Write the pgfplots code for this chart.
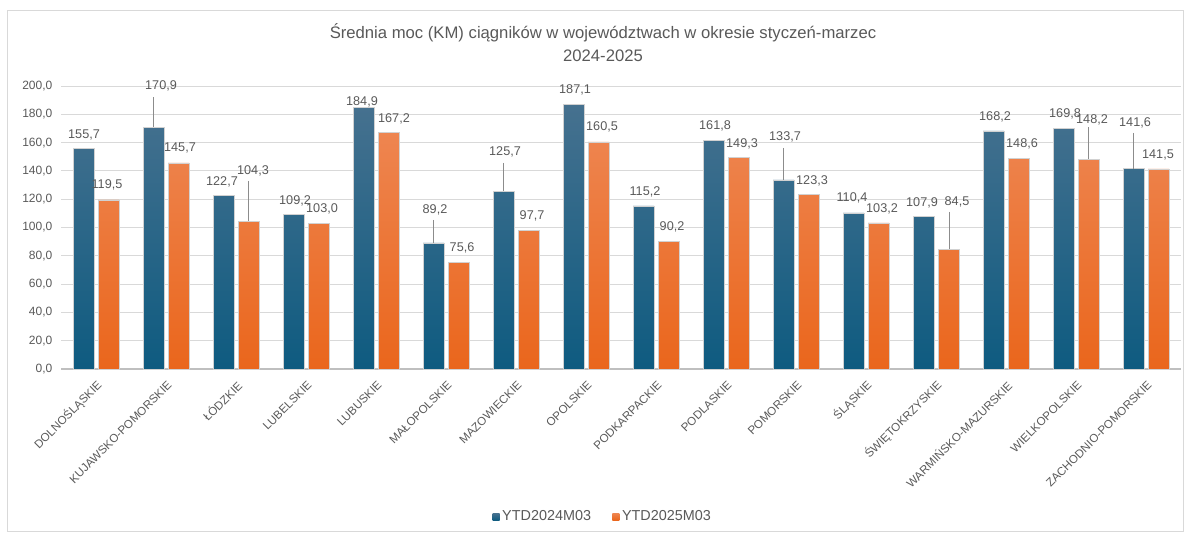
\documentclass[border=0pt]{standalone}
\usepackage{pgfplots}
\pgfplotsset{compat=1.18}
\usepackage{pgfplotstable}
\usepackage{fontspec}
\setmainfont{Liberation Sans}
\definecolor{txt}{HTML}{595959}
\definecolor{gridc}{HTML}{D9D9D9}
\definecolor{axc}{HTML}{BFBFBF}
\definecolor{leadc}{HTML}{8C8C8C}
\definecolor{bluetop}{HTML}{46718F}
\definecolor{bluebot}{HTML}{0E5B80}
\definecolor{orgtop}{HTML}{EE8550}
\definecolor{orgbot}{HTML}{EA661C}

\pgfplotstableread{
x a b
0 155.7 119.5
1 170.9 145.7
2 122.7 104.3
3 109.2 103.0
4 184.9 167.2
5 89.2 75.6
6 125.7 97.7
7 187.1 160.5
8 115.2 90.2
9 161.8 149.3
10 133.7 123.3
11 110.4 103.2
12 107.9 84.5
13 168.2 148.6
14 169.8 148.2
15 141.6 141.5
}\data

\pgfplotstableread{
lx ly lab
-0.171 165.4 155,7
0.929 200.0 170,9
1.800 132.2 122,7
2.843 118.7 109,2
3.800 188.7 184,9
4.843 112.4 89,2
5.843 153.4 125,7
6.843 197.2 187,1
7.843 125.1 115,2
8.843 171.7 161,8
9.843 164.0 133,7
10.800 120.8 110,4
11.800 117.3 107,9
12.843 178.1 168,2
13.843 180.2 169,8
14.843 173.9 141,6
}\labA

\pgfplotstableread{
lx ly lab
0.157 130.0 119,5
1.200 156.2 145,7
2.243 139.9 104,3
3.229 113.1 103,0
4.257 176.7 167,2
5.229 85.5 75,6
6.229 108.1 97,7
7.229 171.0 160,5
8.229 100.4 90,2
9.229 159.0 149,3
10.229 132.9 123,3
11.229 113.1 103,2
12.300 118.0 84,5
13.229 159.0 148,6
14.229 176.0 148,2
15.171 151.2 141,5
}\labB

\begin{document}
\begin{tikzpicture}
\useasboundingbox (0,0) rectangle (890.25pt,401.25pt);
\draw[gridc, line width=0.6pt] (5.25pt,3pt) rectangle (887.25pt,393.75pt);
\node[text=txt, align=center, font=\fontsize{12.5}{17.25}\selectfont] at (452.25pt,369.3pt)
  {Średnia moc (KM) ciągników w województwach w okresie styczeń-marzec\\2024-2025};
\begin{axis}[
  at={(45.75pt,124.5pt)}, anchor=south west,
  scale only axis, width=840pt, height=212.25pt,
  xmin=-0.5, xmax=15.5, ymin=0, ymax=200,
  clip=false,
  axis x line*=bottom, axis y line*=left,
  x axis line style={draw=axc, line width=0.8pt, -},
  y axis line style={draw=none},
  major tick length=0pt,
  ytick={0,20,...,200},
  ymajorgrids, grid style={gridc, line width=0.6pt},
  xtick={0,...,15},
  xticklabels={DOLNOŚLĄSKIE,KUJAWSKO-POMORSKIE,ŁÓDZKIE,LUBELSKIE,LUBUSKIE,MAŁOPOLSKIE,MAZOWIECKIE,OPOLSKIE,PODKARPACKIE,PODLASKIE,POMORSKIE,ŚLĄSKIE,ŚWIĘTOKRZYSKIE,WARMIŃSKO-MAZURSKIE,WIELKOPOLSKIE,ZACHODNIO-POMORSKIE},
  xticklabel style={rotate=45, anchor=east, inner sep=0pt, xshift=-5.5pt, yshift=-9.5pt, text=txt, font=\fontsize{8.7}{9}\selectfont},
  yticklabel style={text=txt, font=\fontsize{9}{10}\selectfont, xshift=-3pt},
  /pgf/number format/.cd, fixed, fixed zerofill, precision=1, use comma, assume math mode=true,
  /pgfplots/.cd,
  legend style={at={(0.484,-0.522)}, anchor=center, draw=none, legend columns=2,
    font=\fontsize{10.8}{12}\selectfont, text=txt,
    /tikz/every even column/.append style={column sep=14pt}},
  legend image code/.code={\draw[#1, draw=none] (-2pt,-2.6pt) rectangle (3.25pt,2.6pt);},
]
\addplot[ybar, bar width=15.75pt, bar shift=-9.375pt, draw=black!18, line width=0.4pt,
  top color=bluetop, bottom color=bluebot] table[x=x, y=a] {\data};
\addlegendentry{YTD2024M03}
\addplot[ybar, bar width=15.75pt, bar shift=9.375pt, draw=black!18, line width=0.4pt,
  top color=orgtop, bottom color=orgbot] table[x=x, y=b] {\data};
\addlegendentry{YTD2025M03}

\addplot[forget plot, leadc, line width=0.5pt] coordinates {(0.821,192.2) (0.821,170.9)};
\addplot[forget plot, leadc, line width=0.5pt] coordinates {(2.179,132.9) (2.179,104.3)};
\addplot[forget plot, leadc, line width=0.5pt] coordinates {(4.821,105.3) (4.821,89.2)};
\addplot[forget plot, leadc, line width=0.5pt] coordinates {(5.821,145.6) (5.821,125.7)};
\addplot[forget plot, leadc, line width=0.5pt] coordinates {(9.821,156.2) (9.821,133.7)};
\addplot[forget plot, leadc, line width=0.5pt] coordinates {(12.186,111.0) (12.186,84.5)};
\addplot[forget plot, leadc, line width=0.5pt] coordinates {(14.179,171.0) (14.179,148.2)};
\addplot[forget plot, leadc, line width=0.5pt] coordinates {(14.821,166.8) (14.821,141.6)};

\addplot[forget plot, draw=none, mark=none, nodes near coords, point meta=explicit symbolic,
  every node near coord/.append style={anchor=center, text=txt, font=\fontsize{9.5}{10}\selectfont, inner sep=1pt}]
  table[x=lx, y=ly, meta=lab] {\labA};
\addplot[forget plot, draw=none, mark=none, nodes near coords, point meta=explicit symbolic,
  every node near coord/.append style={anchor=center, text=txt, font=\fontsize{9.5}{10}\selectfont, inner sep=1pt}]
  table[x=lx, y=ly, meta=lab] {\labB};
\end{axis}
\end{tikzpicture}
\end{document}
